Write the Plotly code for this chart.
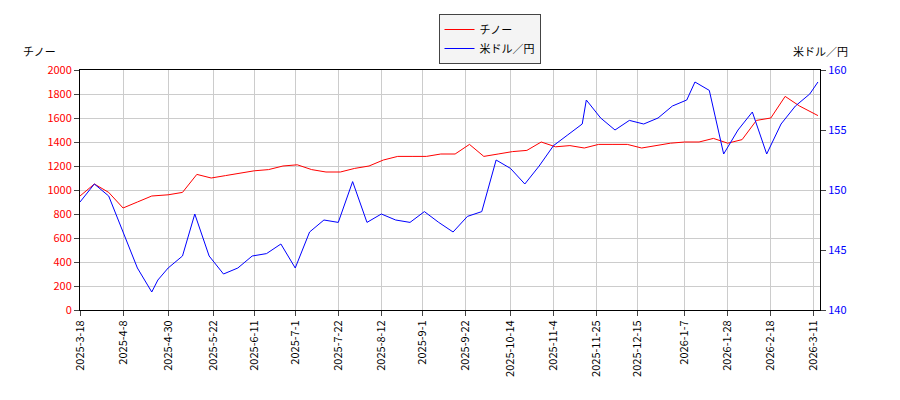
import plotly.graph_objects as go

# weekly readings
chino_dates = ["2025-03-18","2025-03-25","2025-04-01","2025-04-08","2025-04-15","2025-04-22","2025-04-30","2025-05-07","2025-05-14","2025-05-21","2025-05-28","2025-06-04","2025-06-11","2025-06-18","2025-06-25","2025-07-02","2025-07-09","2025-07-16","2025-07-23","2025-07-30","2025-08-06","2025-08-13","2025-08-20","2025-08-27","2025-09-03","2025-09-10","2025-09-17","2025-09-24","2025-10-01","2025-10-08","2025-10-15","2025-10-22","2025-10-29","2025-11-05","2025-11-12","2025-11-19","2025-11-26","2025-12-03","2025-12-10","2025-12-17","2025-12-24","2025-12-31","2026-01-07","2026-01-14","2026-01-21","2026-01-28","2026-02-04","2026-02-11","2026-02-18","2026-02-25","2026-03-04","2026-03-11","2026-03-13"]
chino_vals = [950,1050,980,850,900,950,960,980,1130,1100,1120,1140,1160,1170,1200,1210,1170,1150,1150,1180,1200,1250,1280,1280,1280,1300,1300,1380,1280,1300,1320,1330,1400,1360,1370,1350,1380,1380,1380,1350,1370,1390,1400,1400,1430,1390,1420,1580,1600,1780,1700,1640,1620]

usd_dates = ["2025-03-18","2025-03-25","2025-04-01","2025-04-08","2025-04-15","2025-04-22","2025-04-25","2025-04-30","2025-05-07","2025-05-13","2025-05-20","2025-05-27","2025-06-03","2025-06-10","2025-06-17","2025-06-24","2025-07-01","2025-07-08","2025-07-15","2025-07-22","2025-07-29","2025-08-05","2025-08-12","2025-08-19","2025-08-26","2025-09-02","2025-09-09","2025-09-16","2025-09-23","2025-09-30","2025-10-07","2025-10-14","2025-10-21","2025-10-28","2025-11-04","2025-11-11","2025-11-18","2025-11-20","2025-11-27","2025-12-04","2025-12-11","2025-12-18","2025-12-25","2026-01-01","2026-01-08","2026-01-12","2026-01-19","2026-01-26","2026-02-02","2026-02-09","2026-02-16","2026-02-23","2026-03-02","2026-03-09","2026-03-13"]
usd_vals = [149,150.5,149.5,146.5,143.5,141.5,142.5,143.5,144.5,148,144.5,143,143.5,144.5,144.7,145.5,143.5,146.5,147.5,147.3,150.7,147.3,148,147.5,147.3,148.2,147.3,146.5,147.8,148.2,152.5,151.8,150.5,152,153.7,154.6,155.5,157.5,156,155,155.8,155.5,156,157,157.5,159,158.3,153,155,156.5,153,155.5,157,158,159]

tick_dates = ["2025-03-18","2025-04-08","2025-04-30","2025-05-22","2025-06-11","2025-07-01","2025-07-22","2025-08-12","2025-09-01","2025-09-22","2025-10-14","2025-11-04","2025-11-25","2025-12-15","2026-01-07","2026-01-28","2026-02-18","2026-03-11"]
tick_text = ["2025-3-18","2025-4-8","2025-4-30","2025-5-22","2025-6-11","2025-7-1","2025-7-22","2025-8-12","2025-9-1","2025-9-22","2025-10-14","2025-11-4","2025-11-25","2025-12-15","2026-1-7","2026-1-28","2026-2-18","2026-3-11"]

fig = go.Figure()
fig.add_trace(go.Scatter(x=chino_dates, y=chino_vals, name="チノー", mode="lines", line=dict(color="red", width=1)))
fig.add_trace(go.Scatter(x=usd_dates, y=usd_vals, name="米ドル／円", mode="lines", line=dict(color="blue", width=1), yaxis="y2"))

fig.update_layout(
    width=900, height=400,
    plot_bgcolor="white", paper_bgcolor="white",
    font=dict(family="Noto Sans CJK JP, DejaVu Sans", size=11, color="black"),
    margin=dict(l=72, r=88, t=62, b=98, autoexpand=False),
    legend=dict(x=0.535, y=0.985, xref="container", yref="container", xanchor="center", yanchor="top",
                bordercolor="#444", borderwidth=1, bgcolor="#f4f4f4"),
    xaxis=dict(range=["2025-03-18","2026-03-14"], tickvals=tick_dates, ticktext=tick_text, tickangle=-90,
               showgrid=True, gridcolor="#cccccc", showline=True, linecolor="black", mirror=True, ticks="outside"),
    yaxis=dict(range=[0,2000], dtick=200, tickfont=dict(color="red"), showgrid=True, gridcolor="#cccccc",
               showline=True, linecolor="black", ticks="outside"),
    yaxis2=dict(range=[140,160], dtick=5, overlaying="y", side="right", tickfont=dict(color="blue"),
                showgrid=False, showline=True, linecolor="black", ticks="outside"),
    annotations=[
        dict(text="チノー", xref="paper", yref="paper", x=-0.08, y=1.12, showarrow=False, xanchor="left"),
        dict(text="米ドル／円", xref="paper", yref="paper", x=1.04, y=1.12, showarrow=False, xanchor="right"),
    ],
)
fig.write_html("out.html")
